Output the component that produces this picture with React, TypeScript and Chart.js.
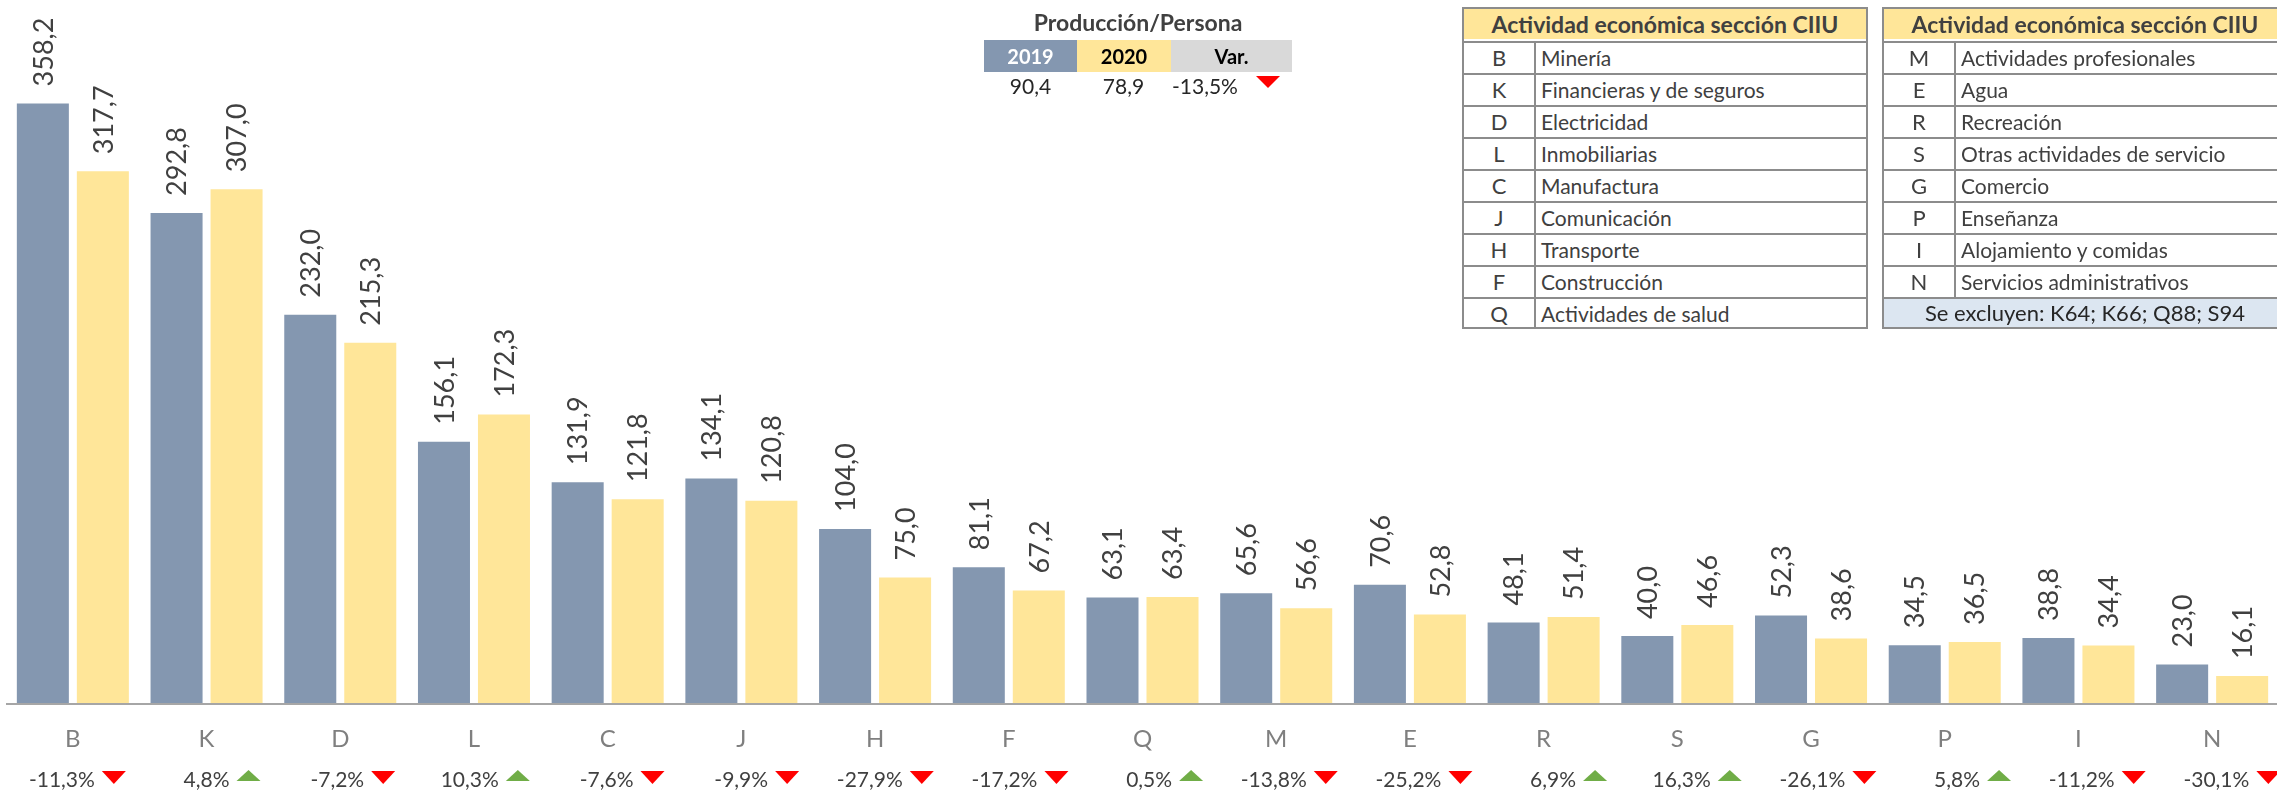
import React, { useEffect, useRef } from "react";
import { Chart, registerables } from "chart.js";

Chart.register(...registerables);

const categories = ["B", "K", "D", "L", "C", "J", "H", "F", "Q", "M", "E", "R", "S", "G", "P", "I", "N"];
const values2019 = [358.2, 292.8, 232.0, 156.1, 131.9, 134.1, 104.0, 81.1, 63.1, 65.6, 70.6, 48.1, 40.0, 52.3, 34.5, 38.8, 23.0];
const values2020 = [317.7, 307.0, 215.3, 172.3, 121.8, 120.8, 75.0, 67.2, 63.4, 56.6, 52.8, 51.4, 46.6, 38.6, 36.5, 34.4, 16.1];
const variations = ["-11,3%", "4,8%", "-7,2%", "10,3%", "-7,6%", "-9,9%", "-27,9%", "-17,2%", "0,5%", "-13,8%", "-25,2%", "6,9%", "16,3%", "-26,1%", "5,8%", "-11,2%", "-30,1%"];

const tableLeftCodes = ["B", "K", "D", "L", "C", "J", "H", "F", "Q"];
const tableLeftNames = ["Minería", "Financieras y de seguros", "Electricidad", "Inmobiliarias", "Manufactura", "Comunicación", "Transporte", "Construcción", "Actividades de salud"];
const tableRightCodes = ["M", "E", "R", "S", "G", "P", "I", "N"];
const tableRightNames = ["Actividades profesionales", "Agua", "Recreación", "Otras actividades de servicio", "Comercio", "Enseñanza", "Alojamiento y comidas", "Servicios administrativos"];
const tableTitle = "Actividad económica sección CIIU";
const excludedNote = "Se excluyen: K64; K66; Q88; S94";

const summaryTitle = "Producción/Persona";
const summaryHeaders = ["2019", "2020", "Var."];
const summaryValues = ["90,4", "78,9", "-13,5%"];

const BLUE = "#8497B0";
const YELLOW = "#FFE699";
const FONT = "Lato, 'Open Sans', sans-serif";

const fmt = (v: number) => v.toFixed(1).replace(".", ",");

function drawTriangle(ctx: CanvasRenderingContext2D, left: number, up: boolean) {
  ctx.beginPath();
  if (up) {
    ctx.fillStyle = "#70AD47";
    ctx.moveTo(left, 781);
    ctx.lineTo(left + 24, 781);
    ctx.lineTo(left + 12, 770);
  } else {
    ctx.fillStyle = "#FF0000";
    ctx.moveTo(left, 771);
    ctx.lineTo(left + 24, 771);
    ctx.lineTo(left + 12, 784);
  }
  ctx.closePath();
  ctx.fill();
}

const labelPlugin = {
  id: "customLabels",
  afterDatasetsDraw(chart: any) {
    const ctx: CanvasRenderingContext2D = chart.ctx;
    const xs = chart.scales.x;
    const ys = chart.scales.y;
    const base = ys.getPixelForValue(0);
    ctx.save();
    ctx.strokeStyle = "#A6A6A6";
    ctx.lineWidth = 2;
    ctx.beginPath();
    ctx.moveTo(chart.chartArea.left, base + 1);
    ctx.lineTo(chart.chartArea.right, base + 1);
    ctx.stroke();

    const fs = 27;
    ctx.font = `${fs}px ${FONT}`;
    ctx.fillStyle = "#404040";
    ctx.textAlign = "left";
    ctx.textBaseline = "alphabetic";
    chart.data.datasets.forEach((ds: any, di: number) => {
      const meta = chart.getDatasetMeta(di);
      meta.data.forEach((bar: any, i: number) => {
        ctx.save();
        ctx.translate(bar.x, bar.y - 17);
        ctx.rotate(-Math.PI / 2);
        ctx.fillText(fmt(ds.data[i]), 0, fs * 0.36);
        ctx.restore();
      });
    });

    ctx.font = `24px ${FONT}`;
    ctx.fillStyle = "#7F7F7F";
    ctx.textAlign = "center";
    categories.forEach((c, i) => {
      ctx.fillText(c, xs.getPixelForValue(i), 747);
    });

    ctx.font = `21px ${FONT}`;
    ctx.textAlign = "right";
    variations.forEach((v, i) => {
      const cx = xs.getPixelForValue(i);
      const triLeft = cx + 29 + i * 0.95;
      ctx.fillStyle = "#404040";
      ctx.fillText(v, triLeft - 7, 787);
      drawTriangle(ctx, triLeft, !v.startsWith("-"));
    });
    ctx.restore();
  },
};

const cellText: React.CSSProperties = {
  fontFamily: FONT,
  color: "#404040",
  whiteSpace: "nowrap",
};

function SectorTable(props: { left: number; codes: string[]; names: string[]; note?: string }) {
  const rowH = 32;
  const width = 406;
  const rows = props.codes.map((c, i) => (
    <div
      key={c}
      style={{
        position: "absolute",
        left: 0,
        top: rowH * (i + 1),
        width: "100%",
        height: rowH,
        borderTop: "2px solid #8C8C8C",
        boxSizing: "border-box",
        display: "flex",
      }}
    >
      <div
        style={{
          ...cellText,
          width: 70,
          borderRight: "2px solid #8C8C8C",
          textAlign: "center",
          fontSize: 22,
          lineHeight: `${rowH - 2}px`,
        }}
      >
        {c}
      </div>
      <div style={{ ...cellText, paddingLeft: 5, fontSize: 21, lineHeight: `${rowH - 2}px` }}>{props.names[i]}</div>
    </div>
  ));
  return (
    <div
      style={{
        position: "absolute",
        left: props.left,
        top: 7,
        width,
        height: rowH * 10 + 2,
        border: "2px solid #8C8C8C",
        boxSizing: "border-box",
        background: "#FFFFFF",
      }}
    >
      <div
        style={{
          ...cellText,
          position: "absolute",
          left: 0,
          top: 0,
          width: "100%",
          height: rowH - 2,
          background: YELLOW,
          textAlign: "center",
          fontWeight: 700,
          fontSize: 23,
          lineHeight: `${rowH - 2}px`,
        }}
      >
        {tableTitle}
      </div>
      {rows}
      {props.note ? (
        <div
          style={{
            ...cellText,
            position: "absolute",
            left: 0,
            top: rowH * 9,
            width: "100%",
            height: rowH - 2,
            borderTop: "2px solid #8C8C8C",
            boxSizing: "border-box",
            background: "#DCE6F1",
            textAlign: "center",
            fontSize: 22,
            color: "#262626",
            lineHeight: `${rowH - 4}px`,
          }}
        >
          {props.note}
        </div>
      ) : null}
    </div>
  );
}

function Summary() {
  const cellW = [93, 94, 121];
  const cellX = [984, 1077, 1171];
  const fills = [BLUE, YELLOW, "#D9D9D9"];
  const colors = ["#FFFFFF", "#000000", "#000000"];
  return (
    <>
      <div
        style={{
          ...cellText,
          position: "absolute",
          left: 984,
          top: 7,
          width: 308,
          textAlign: "center",
          fontWeight: 700,
          fontSize: 23,
          lineHeight: "30px",
        }}
      >
        {summaryTitle}
      </div>
      {summaryHeaders.map((h, i) => (
        <div
          key={h}
          style={{
            ...cellText,
            position: "absolute",
            left: cellX[i],
            top: 40,
            width: cellW[i],
            height: 32,
            background: fills[i],
            color: colors[i],
            textAlign: "center",
            fontWeight: 700,
            fontSize: 20,
            lineHeight: "32px",
          }}
        >
          {h}
        </div>
      ))}
      <div style={{ ...cellText, position: "absolute", left: 984, top: 73, width: 93, textAlign: "center", fontSize: 21, color: "#262626", lineHeight: "26px" }}>
        {summaryValues[0]}
      </div>
      <div style={{ ...cellText, position: "absolute", left: 1077, top: 73, width: 93, textAlign: "center", fontSize: 21, color: "#262626", lineHeight: "26px" }}>
        {summaryValues[1]}
      </div>
      <div style={{ ...cellText, position: "absolute", left: 1172, top: 73, fontSize: 21, color: "#262626", lineHeight: "26px" }}>
        {summaryValues[2]}
      </div>
      <div
        style={{
          position: "absolute",
          left: 1256,
          top: 76,
          width: 0,
          height: 0,
          borderLeft: "12px solid transparent",
          borderRight: "12px solid transparent",
          borderTop: "12px solid #FF0000",
        }}
      />
    </>
  );
}

export default function App() {
  const canvasRef = useRef<HTMLCanvasElement | null>(null);

  useEffect(() => {
    if (!canvasRef.current) return;
    const chart = new Chart(canvasRef.current, {
      type: "bar",
      data: {
        labels: categories,
        datasets: [
          { label: "2019", data: values2019, backgroundColor: BLUE, borderWidth: 0 },
          { label: "2020", data: values2020, backgroundColor: YELLOW, borderWidth: 0 },
        ],
      },
      options: {
        animation: false,
        responsive: false,
        devicePixelRatio: 1,
        layout: { padding: { left: 6, right: 1, top: 0, bottom: 88 } },
        datasets: { bar: { categoryPercentage: 0.8975, barPercentage: 0.867 } },
        plugins: { legend: { display: false }, tooltip: { enabled: false }, title: { display: false } },
        scales: {
          x: { display: false },
          y: { display: false, min: 0, max: 420 },
        },
      },
      plugins: [labelPlugin],
    });
    return () => chart.destroy();
  }, []);

  return (
    <div
      style={{
        position: "fixed",
        left: 0,
        top: 0,
        width: 2277,
        height: 791,
        overflow: "hidden",
        background: "#FFFFFF",
      }}
    >
      <canvas ref={canvasRef} width={2280} height={791} style={{ position: "absolute", left: 0, top: 0 }} />
      <Summary />
      <SectorTable left={1462} codes={tableLeftCodes} names={tableLeftNames} />
      <SectorTable left={1882} codes={tableRightCodes} names={tableRightNames} note={excludedNote} />
    </div>
  );
}
